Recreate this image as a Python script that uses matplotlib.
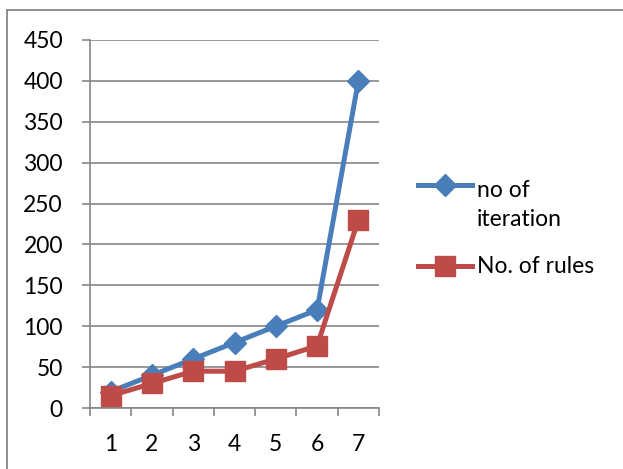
import matplotlib
matplotlib.use("Agg")
import matplotlib.pyplot as plt
from matplotlib.lines import Line2D
from matplotlib.patches import Rectangle

categories = [1, 2, 3, 4, 5, 6, 7]
iterations = [20, 40, 60, 80, 100, 120, 400]
rules = [15, 30, 45, 45, 60, 76, 230]
y_ticks = [0, 50, 100, 150, 200, 250, 300, 350, 400, 450]
series_names = [["no of", "iteration"], ["No. of rules"]]

BLUE = "#4A7EBB"
RED = "#BE4B48"
GRID = "#868686"
FS = 16.5

plt.rcParams["font.family"] = ["Lato", "DejaVu Sans"]

W, H = 623, 469
fig = plt.figure(figsize=(W / 100, H / 100), dpi=100)
ax = fig.add_axes([90 / W, 1 - 408 / H, (379 - 90) / W, (408 - 40) / H])

# outer chart frame
fig.patches.append(Rectangle((7 / W, -0.1), 1.2, (H - 10) / H + 0.1,
                             transform=fig.transFigure, fill=False,
                             edgecolor=GRID, linewidth=1.3))

styles = [dict(color=BLUE, marker="D", markersize=11.5),
          dict(color=RED, marker="s", markersize=14)]

ax.plot(categories, iterations, linewidth=3.6, solid_joinstyle="round",
        zorder=3, **styles[0])
ax.plot(categories, rules, linewidth=3.6, solid_joinstyle="round",
        zorder=4, **styles[1])

ax.set_xlim(0.5, 7.5)
ax.set_ylim(0, 450)
ax.set_yticks(y_ticks)
ax.set_xticks(categories)
ax.set_xticks([c - 0.5 for c in categories] + [7.5], minor=True)
ax.tick_params(axis="x", which="major", length=0, pad=19, labelsize=FS)
ax.tick_params(axis="x", which="minor", length=6, width=1.2, color=GRID)
ax.tick_params(axis="y", length=6, width=1.2, color=GRID, labelsize=FS, pad=13.5)
ax.yaxis.grid(True, color=GRID, linewidth=1.2)
ax.set_axisbelow(True)
for side in ("top", "right"):
    ax.spines[side].set_visible(False)
for side in ("left", "bottom"):
    ax.spines[side].set_color(GRID)
    ax.spines[side].set_linewidth(1.2)

# legend: handle row and first text baseline in pixels, line step 29 px
legend_rows = [(185, 197), (266, 273)]
for (hy, ty), lines, st in zip(legend_rows, series_names, styles):
    y = 1 - hy / H
    fig.add_artist(Line2D([418 / W, 472 / W], [y, y], transform=fig.transFigure,
                          color=st["color"], linewidth=3.6))
    fig.add_artist(Line2D([445 / W], [y], transform=fig.transFigure,
                          color=st["color"], marker=st["marker"],
                          markersize=st["markersize"], linestyle="none"))
    for i, line in enumerate(lines):
        fig.text(477 / W, 1 - (ty + 29 * i) / H, line, fontsize=FS, ha="left",
                 va="baseline", transform=fig.transFigure)

fig.savefig("out.png", dpi=100)
